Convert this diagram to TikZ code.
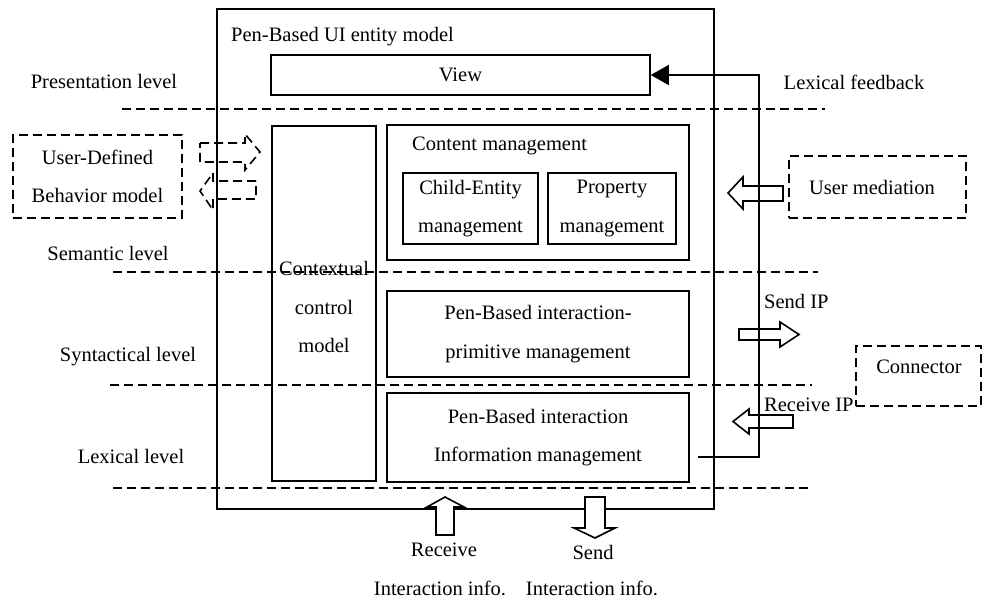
\documentclass[tikz,border=0pt]{standalone}
\usepackage{fontspec}
\setmainfont{Liberation Serif}
\usetikzlibrary{arrows.meta}
\tikzset{
  ln/.style={line width=1.6pt},
  box/.style={draw, line width=1.6pt, inner sep=0pt, align=center},
  dbox/.style={draw, dash pattern=on 9pt off 5pt, line width=1.6pt, inner sep=0pt, align=center},
  lvl/.style={dash pattern=on 9pt off 5pt, line width=1.6pt},
  txt/.style={inner sep=0pt, align=center},
  harrow/.style={draw, line width=1.6pt, line join=miter},
  dharrow/.style={draw, line width=1.6pt, dash pattern=on 9pt off 5pt},
}
\begin{document}
\begin{tikzpicture}[x=1pt, y=-1pt, font=\fontsize{20.5}{38.5}\selectfont]
\useasboundingbox (0,0) rectangle (983,600);
% level lines
\draw[lvl] (122,109) -- (825,109);
\draw[lvl] (113,272) -- (818,272);
\draw[lvl] (110,385) -- (812,385);
\draw[lvl] (113,488) -- (812,488);
% main boxes
\node[box, minimum width=497pt, minimum height=500pt] (outer) at (465.5,259) {};
\node[txt, anchor=west] (ltitle) at (231,37) {Pen-Based UI entity model};
\node[box, minimum width=379pt, minimum height=40pt] (view) at (460.5,75) {View};
\node[box, minimum width=104pt, minimum height=355pt] (ctx) at (324,303.5) {};
\node[txt] (lctx) at (324,307) {Contextual\\control\\model};
\node[box, minimum width=302pt, minimum height=135pt] (content) at (538,192.5) {};
\node[txt, anchor=west] (lcontent) at (412,146) {Content management};
\node[box, minimum width=135pt, minimum height=71pt] (child) at (470.5,208.5) {Child-Entity\\management};
\node[box, minimum width=128pt, minimum height=71pt] (prop) at (612,208.5) {Property\\management};
\node[box, minimum width=302pt, minimum height=86pt] (prim) at (538,334) {Pen-Based interaction-\\primitive management};
\node[box, minimum width=302pt, minimum height=89pt] (info) at (538,437.5) {Pen-Based interaction\\Information management};
% external dashed boxes
\node[dbox, minimum width=169pt, minimum height=83pt] (userdef) at (97.5,176.5) {User-Defined\\Behavior model};
\node[dbox, minimum width=177pt, minimum height=62pt] (usermed) at (877.5,187) {};
\node[txt] (lusermed) at (872,187) {User mediation};
\node[dbox, minimum width=125pt, minimum height=60pt] (conn) at (918.5,376) {};
\node[txt] (lconn) at (919,367) {Connector};
% level labels
\node[txt] (lpres) at (104,81) {Presentation level};
\node[txt] (lsem) at (108,253) {Semantic level};
\node[txt] (lsyn) at (128,357) {Syntactical level};
\node[txt] (llex) at (131,456) {Lexical level};
% right labels
\node[txt] (lfb) at (854,82) {Lexical feedback};
\node[txt, anchor=west] (lsend) at (764,301) {Send IP};
\node[txt, anchor=west] (lrecv) at (764,405) {Receive IP};
% feedback connector
\coordinate (fb0) at (698,457);
\coordinate (fb1) at (759,457);
\draw[ln, -{Triangle[length=18pt,width=20pt]}] (fb0) -- (fb1) |- (view.east);
% hollow arrows (dashed, left)
\draw[dharrow] (200,143) -- (245,143) -- (245,134) -- (260,152) -- (245,170) -- (245,162) -- (200,162) -- cycle;
\draw[dharrow] (256,181) -- (213,181) -- (213,173) -- (200,191) -- (213,210) -- (213,199) -- (256,199) -- cycle;
% hollow arrows (right)
\draw[harrow] (783,186) -- (743,186) -- (743,177) -- (728,193) -- (743,209) -- (743,201) -- (783,201) -- cycle;
\draw[harrow] (739,329) -- (780,329) -- (780,322) -- (799,334.5) -- (780,347) -- (780,340) -- (739,340) -- cycle;
\draw[harrow] (793,415) -- (749,415) -- (749,409) -- (733,421.5) -- (749,434) -- (749,428) -- (793,428) -- cycle;
% bottom arrows
\draw[harrow, fill=white] (436,535) -- (436,507) -- (427,507) -- (445,497) -- (464,507) -- (454,507) -- (454,535) -- cycle;
\draw[harrow, fill=white] (585,497) -- (605,497) -- (605,528) -- (615,528) -- (595,538) -- (574,528) -- (585,528) -- cycle;
% bottom labels
\node[txt] (lrcv) at (444,550) {Receive};
\node[txt] (lsnd) at (593,552) {Send};
\node[txt] (lrcvi) at (440,588) {Interaction info.};
\node[txt] (lsndi) at (592,588) {Interaction info.};
\end{tikzpicture}
\end{document}
